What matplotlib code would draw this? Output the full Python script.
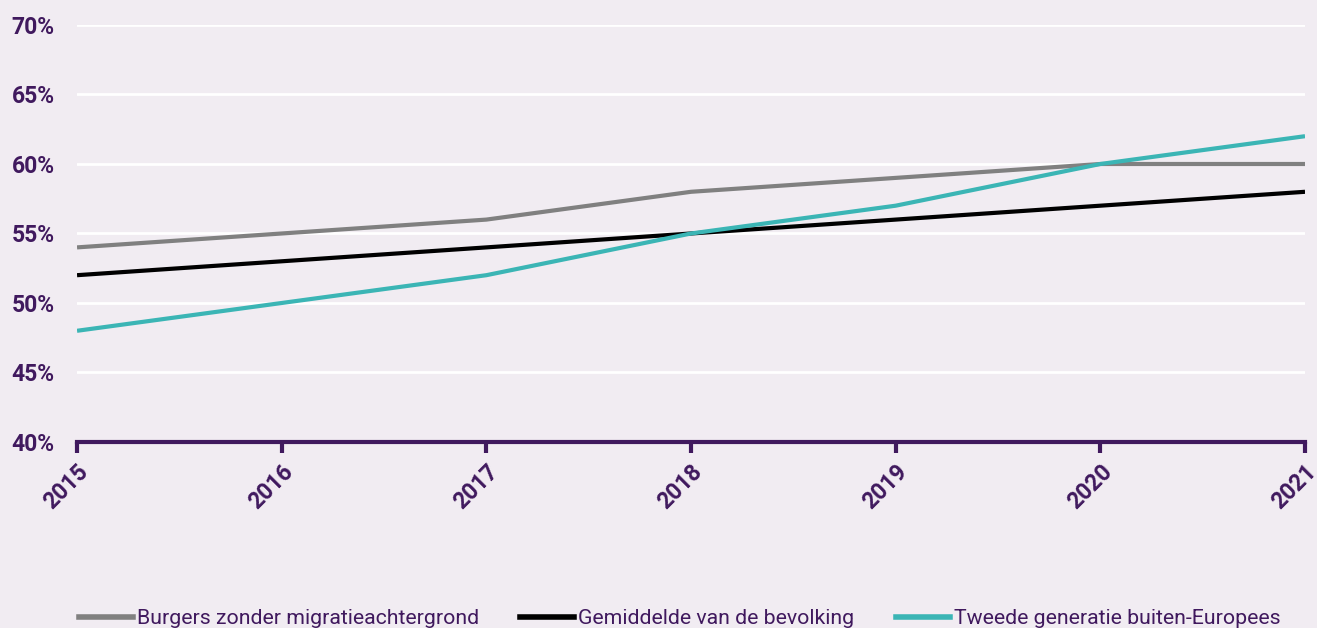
import matplotlib
matplotlib.use("Agg")
import matplotlib.pyplot as plt
from matplotlib.lines import Line2D

years = ["2015", "2016", "2017", "2018", "2019", "2020", "2021"]
burgers = [54, 55, 56, 58, 59, 60, 60]
gemiddelde = [52, 53, 54, 55, 56, 57, 58]
tweede = [48, 50, 52, 55, 57, 60, 62]
series_names = ["Burgers zonder migratieachtergrond", "Gemiddelde van de bevolking",
                "Tweede generatie buiten-Europees"]
yticks = [40, 45, 50, 55, 60, 65, 70]

bg = "#f1ecf2"
purple = "#40195e"
colors = ["#808080", "#000000", "#3bb5b5"]

plt.rcParams['font.family'] = ['Roboto', 'DejaVu Sans']
fig = plt.figure(figsize=(13.17, 6.28), dpi=100, facecolor=bg)
ax = fig.add_axes([0.0585, 0.2962, 0.9324, 0.664])
ax.set_facecolor(bg)

x = list(range(len(years)))
for vals, c, name in zip([burgers, gemiddelde, tweede], colors, series_names):
    ax.plot(x, vals, color=c, lw=3, label=name, solid_capstyle='butt', zorder=3)

ax.set_xlim(0, len(years) - 1)
ax.set_ylim(40, 70)
ax.set_yticks(yticks)
ax.set_yticklabels([f"{v}%" for v in yticks], fontsize=16.5, fontweight='bold', color=purple)
ax.set_xticks(x)
ax.set_xticklabels(years, rotation=45, ha='right', rotation_mode='anchor',
                   fontsize=16.5, fontweight='bold', color=purple)
ax.tick_params(axis='y', length=0, pad=16)
ax.tick_params(axis='x', length=8, width=3, color=purple, pad=5, direction='out')
for s in ['top', 'right', 'left']:
    ax.spines[s].set_visible(False)
ax.spines['bottom'].set_color(purple)
ax.spines['bottom'].set_linewidth(3)
ax.grid(axis='y', color='white', lw=2, zorder=0)
ax.set_axisbelow(True)

W, H = 1317, 628
leg_x = [79, 520, 896]
for c, name, lx in zip(colors, series_names, leg_x):
    leg = fig.legend([Line2D([0], [0], color=c, lw=4)], [name], loc='center left',
                     bbox_to_anchor=(lx / W, 1 - 619 / H), frameon=False, fontsize=15.3,
                     handlelength=2.55, handletextpad=0.2, borderpad=0, borderaxespad=0)
    for t in leg.get_texts():
        t.set_color(purple)

fig.savefig("out.png", dpi=100, facecolor=bg)
